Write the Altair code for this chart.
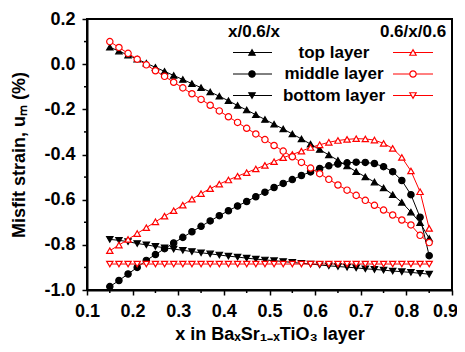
import altair as alt
import pandas as pd

# ---------------- data ----------------
x_vals = [0.15, 0.17, 0.19, 0.21, 0.23, 0.25, 0.27, 0.29, 0.31, 0.33, 0.35, 0.37,
          0.39, 0.41, 0.43, 0.45, 0.47, 0.49, 0.51, 0.53, 0.55, 0.57, 0.59, 0.61,
          0.63, 0.65, 0.67, 0.69, 0.71, 0.73, 0.75, 0.77, 0.79, 0.81, 0.83, 0.85]

# x/0.6/x structure (black, filled symbols)
top_a = [0.075, 0.058, 0.040, 0.022, 0.004, -0.014, -0.032, -0.050, -0.068, -0.086, -0.104, -0.123,
         -0.142, -0.162, -0.183, -0.203, -0.224, -0.245, -0.266, -0.287, -0.309, -0.331, -0.354, -0.378,
         -0.402, -0.426, -0.451, -0.476, -0.499, -0.522, -0.548, -0.578, -0.612, -0.655, -0.702, -0.772]
mid_a = [-0.985, -0.958, -0.929, -0.900, -0.869, -0.843, -0.817, -0.792, -0.767, -0.742, -0.718, -0.694,
         -0.671, -0.649, -0.628, -0.608, -0.587, -0.567, -0.546, -0.528, -0.511, -0.493, -0.477, -0.462,
         -0.450, -0.442, -0.437, -0.434, -0.435, -0.440, -0.454, -0.476, -0.515, -0.578, -0.678, -0.848]
bot_a = [-0.776, -0.780, -0.786, -0.794, -0.800, -0.807, -0.813, -0.819, -0.824, -0.830, -0.835, -0.840,
         -0.845, -0.850, -0.854, -0.859, -0.863, -0.867, -0.870, -0.874, -0.878, -0.882, -0.885, -0.889,
         -0.893, -0.896, -0.899, -0.902, -0.906, -0.909, -0.912, -0.916, -0.919, -0.922, -0.926, -0.930]

# 0.6/x/0.6 structure (red, open symbols)
top_b = [-0.826, -0.801, -0.776, -0.750, -0.724, -0.698, -0.673, -0.649, -0.624, -0.598, -0.573, -0.551,
         -0.531, -0.513, -0.496, -0.480, -0.464, -0.448, -0.432, -0.414, -0.400, -0.385, -0.369, -0.357,
         -0.346, -0.338, -0.333, -0.330, -0.331, -0.336, -0.351, -0.373, -0.413, -0.473, -0.565, -0.727]
mid_b = [0.100, 0.074, 0.048, 0.022, -0.003, -0.029, -0.054, -0.080, -0.105, -0.131, -0.156, -0.182,
         -0.207, -0.233, -0.258, -0.284, -0.309, -0.334, -0.360, -0.385, -0.410, -0.435, -0.460, -0.485,
         -0.510, -0.535, -0.558, -0.581, -0.603, -0.625, -0.646, -0.668, -0.690, -0.712, -0.758, -0.790]
bot_b = [-0.885, -0.885, -0.885, -0.885, -0.885, -0.885, -0.885, -0.885, -0.885, -0.885, -0.885, -0.885,
         -0.885, -0.885, -0.885, -0.885, -0.885, -0.885, -0.885, -0.885, -0.885, -0.885, -0.885, -0.885,
         -0.885, -0.885, -0.885, -0.885, -0.885, -0.885, -0.885, -0.885, -0.885, -0.885, -0.885, -0.885]

series_names = ["a_top", "a_mid", "a_bot", "b_top", "b_mid", "b_bot"]
series_vals = [top_a, mid_a, bot_a, top_b, mid_b, bot_b]
series_stroke = ["#000000", "#000000", "#000000", "#ff0000", "#ff0000", "#ff0000"]
series_fill = ["#000000", "#000000", "#000000", "#ffffff", "#ffffff", "#ffffff"]
series_shape = ["triangle-up", "circle", "triangle-down", "triangle-up", "circle", "triangle-down"]

x_ticks = [0.1, 0.2, 0.3, 0.4, 0.5, 0.6, 0.7, 0.8, 0.9]
y_ticks = [-1.0, -0.8, -0.6, -0.4, -0.2, 0.0, 0.2]
x_minor = [0.15, 0.25, 0.35, 0.45, 0.55, 0.65, 0.75, 0.85]
y_minor = [-0.9, -0.7, -0.5, -0.3, -0.1, 0.1]

legend_headers = ["x/0.6/x", "0.6/x/0.6"]
legend_labels = ["top layer", "middle layer", "bottom layer"]

# ---------------- build ----------------
W, H = 365, 271
FONT = "Liberation Sans"
MSIZE = 40

rows = []
for name, vals in zip(series_names, series_vals):
    for xv, yv in zip(x_vals, vals):
        rows.append({"x": xv, "y": yv, "series": name})
df = pd.DataFrame(rows)

xscale = alt.Scale(domain=[0.1, 0.9], nice=False, zero=False)
yscale = alt.Scale(domain=[-1.0, 0.2], nice=False, zero=False)

stroke_s = alt.Scale(domain=series_names, range=series_stroke)
fill_s = alt.Scale(domain=series_names, range=series_fill)
shape_s = alt.Scale(domain=series_names, range=series_shape)

base = alt.Chart(df)

lines = base.mark_line(strokeWidth=1).encode(
    x=alt.X("x:Q", scale=xscale,
            axis=alt.Axis(values=x_ticks, format=".1f", labelFlush=False,
                          labelOffset={"condition": {"test": "datum.value > 0.85", "value": -7},
                                       "value": 0},
                          title="x in BaₓSr₁₋ₓTiO₃ layer")),
    y=alt.Y("y:Q", scale=yscale,
            axis=alt.Axis(values=y_ticks, labelFlush=False,
                          labelExpr="replace(format(datum.value, '.1f'), '\u2212', '-')",
                          title="Misfit strain, uₘ (%)")),
    stroke=alt.Stroke("series:N", scale=stroke_s, legend=None),
    detail="series:N",
)

points = base.mark_point(strokeWidth=1.2, opacity=1, fillOpacity=1).encode(
    x="x:Q",
    y="y:Q",
    stroke=alt.Stroke("series:N", scale=stroke_s, legend=None),
    fill=alt.Fill("series:N", scale=fill_s, legend=None),
    shape=alt.Shape("series:N", scale=shape_s, legend=None),
    size=alt.value(MSIZE),
)

# minor ticks (same fields so they share the main scales/axes)
xm = alt.Chart(pd.DataFrame({"x": x_minor})).mark_rule(color="black", strokeWidth=1.5).encode(
    x="x:Q", y=alt.value(H), y2=alt.value(H + 3))
ym = alt.Chart(pd.DataFrame({"y": y_minor})).mark_rule(color="black", strokeWidth=1.5).encode(
    y="y:Q", x=alt.value(0), x2=alt.value(-3))

# in-plot legend, positioned in plot-area pixels
layers = [lines, points, xm, ym]
dummy = pd.DataFrame({"k": [0]})


def txt(t, px, py):
    return alt.Chart(dummy).mark_text(text=t, font=FONT, fontWeight="bold", fontSize=17,
                                      baseline="middle", align="center", color="black").encode(
        x=alt.value(px), y=alt.value(py))


layers.append(txt(legend_headers[0], 167, 13))
layers.append(txt(legend_headers[1], 326, 13))
row_y = [33.5, 55, 76.5]
for i, ry in enumerate(row_y):
    layers.append(txt(legend_labels[i], 247, ry))
    for j, (x1, x2, xs) in enumerate([(146, 185, 165), (306, 346, 326)]):
        k = i + 3 * j
        layers.append(alt.Chart(dummy).mark_rule(strokeWidth=1, color=series_stroke[k]).encode(
            x=alt.value(x1), x2=alt.value(x2), y=alt.value(ry)))
        layers.append(alt.Chart(dummy).mark_point(
            shape=series_shape[k], stroke=series_stroke[k], fill=series_fill[k],
            strokeWidth=1.2, opacity=1, fillOpacity=1, size=MSIZE).encode(
            x=alt.value(xs), y=alt.value(ry)))

chart = alt.layer(*layers).properties(
    width=W, height=H,
    autosize=alt.AutoSizeParams(type="none"),
    padding={"left": 79, "top": 11, "right": 5, "bottom": 54},
).configure_view(
    stroke="black", strokeWidth=2
).configure_axis(
    grid=False,
    domainColor="black", domainWidth=2,
    tickColor="black", tickWidth=1.5, tickSize=5,
    labelFont=FONT, labelFontWeight="bold", labelFontSize=18, labelColor="black",
    titleFont=FONT, titleFontWeight="bold", titleFontSize=18, titleColor="black",
).configure_axisX(
    labelPadding=7, titlePadding=5
).configure_axisY(
    labelPadding=7, titlePadding=15
)

chart.save("out.html", embed_options={"renderer": "svg", "actions": False})
